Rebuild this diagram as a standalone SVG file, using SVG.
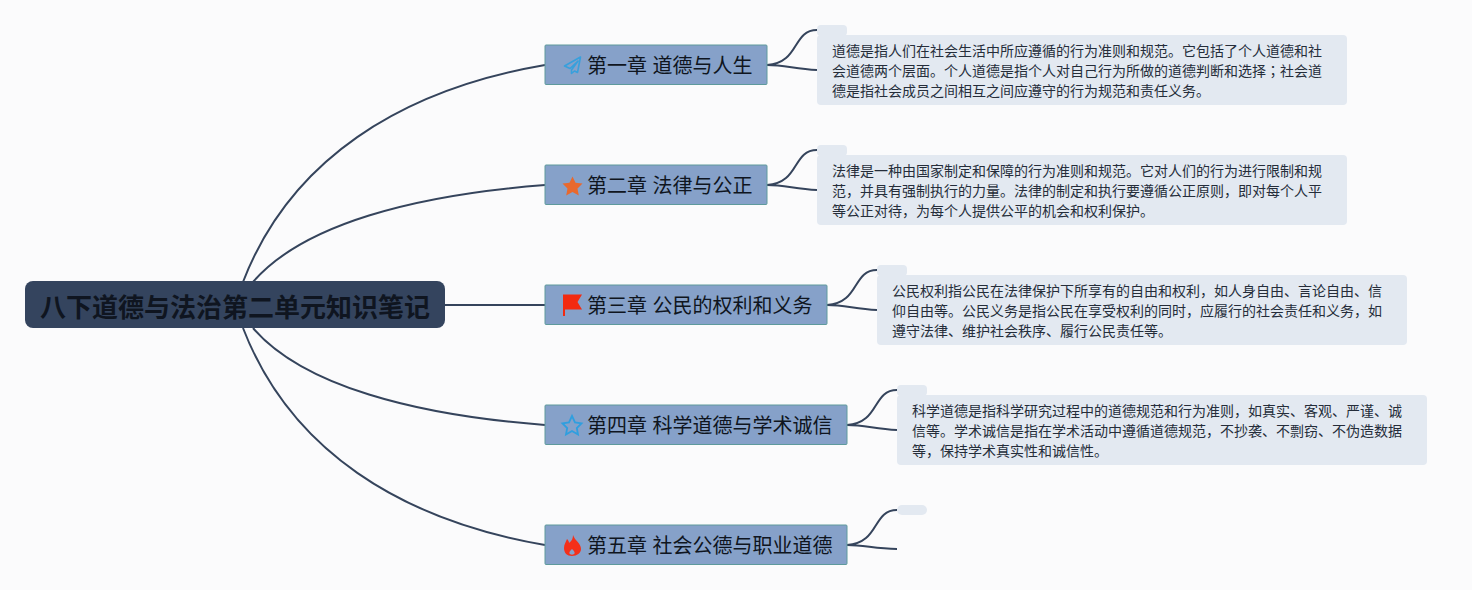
<svg xmlns="http://www.w3.org/2000/svg" width="1472" height="590" viewBox="0 0 1472 590">
<style>
text{font-family:"Noto Sans CJK SC","Noto Sans",sans-serif}
.c{fill:none;stroke:#35445c;stroke-width:2}
.t{fill:#86a1c9;stroke:#5e9a9c;stroke-width:1}
.l{font-size:20px;fill:#0f1520;word-spacing:1px}
.n{fill:#e3e9f1}
.p{font-size:14px;fill:#252d3a}
.s{font-family:"Noto Sans CJK JP",sans-serif}
</style>
<rect width="1472" height="590" fill="#fbfbfc"/>
<g id="connectors">
<path class="c" d="M243 282C290 160 400 90 545 65"/>
<path class="c" d="M253 282C303 224 415 195 545 185"/>
<path class="c" d="M445 305H545"/>
<path class="c" d="M253 328C303 386 415 415 545 425"/>
<path class="c" d="M243 328C290 450 400 520 545 545"/>
<path class="c" d="M767 65C800 63 792 30 817 30M767 65C785 65 795 69 817 70"/>
<path class="c" d="M767 185C800 183 792 150 817 150M767 185C785 185 795 189 817 190"/>
<path class="c" d="M827 305C860 303 852 270 877 270M827 305C845 305 855 309 877 310"/>
<path class="c" d="M847 425C880 423 872 390 897 390M847 425C865 425 875 429 897 430"/>
<path class="c" d="M847 545C880 543 872 510 897 510M847 545C865 545 875 549 897 549"/>
</g>
<g id="root"><rect x="25" y="281" width="420" height="47" rx="8" fill="#34445e"/><text x="235" y="317" text-anchor="middle" font-size="26" font-weight="700" fill="#0f1520">八下道德与法治第二单元知识笔记</text></g>
<g id="t1"><rect class="t" x="545" y="45" width="222" height="39.500" rx="1"/>
<path d="M580.500 57L564.500 66L570 68.500L578 61L571.500 70V73.500L574.500 71L577.500 72.500Z" fill="none" stroke="#38a0dc" stroke-width="1.600" stroke-linejoin="round"/>
<text class="l" x="587" y="73">第一章 道德与人生</text></g>
<g id="t2"><rect class="t" x="545" y="165" width="222" height="39.500" rx="1"/>
<path d="M572.500 176.500L575.500 182.800L582.500 183.600L577.500 188.400L578.800 195.500L572.500 192L566.200 195.500L567.500 188.400L562.500 183.600L569.500 182.800Z" fill="#e8692e"/>
<text class="l" x="587" y="193">第二章 法律与公正</text></g>
<g id="t3"><rect class="t" x="545" y="285" width="282" height="39.500" rx="1"/>
<path d="M563 294.500H582L577.500 302L582 309.500H565V316H563Z" fill="#f22a10"/>
<text class="l" x="587" y="313">第三章 公民的权利和义务</text></g>
<g id="t4"><rect class="t" x="545" y="405" width="302" height="39.500" rx="1"/>
<path d="M572 416L575 422.500L581.500 423.300L576.800 428L578 434.500L572 431L566 434.500L567.200 428L562.500 423.300L569 422.500Z" fill="none" stroke="#2f9fdf" stroke-width="1.800"/>
<text class="l" x="587" y="433">第四章 科学道德与学术诚信</text></g>
<g id="t5"><rect class="t" x="545" y="525" width="302" height="39.500" rx="1"/>
<path d="M573 535C575 541 581 543 581 549C581 553 577 556 572 556C567 556 564 553 564 548C564 544 566 542 567 539C568 540 569 541 569 543C572 541 573 538 573 535ZM572 549C570 551 569 552 569.500 553.500C570 555 574 555 574.500 553.500C575 552 574 551 572 549Z" fill="#f4301a" fill-rule="evenodd"/>
<text class="l" x="587" y="553">第五章 社会公德与职业道德</text></g>
<g id="n1"><rect class="n" x="817" y="25" width="30" height="11" rx="4"/><rect class="n" x="817" y="35" width="530" height="70" rx="4"/>
<text class="p" x="832" y="56">道德是指人们在社会生活中所应遵循的行为准则和规范。它包括了个人道德和社</text><text class="p" x="832" y="76">会道德两个层面。个人道德是指个人对自己行为所做的道德判断和选择<tspan class="s">；</tspan>社会道</text><text class="p" x="832" y="96">德是指社会成员之间相互之间应遵守的行为规范和责任义务。</text></g>
<g id="n2"><rect class="n" x="817" y="145" width="30" height="11" rx="4"/><rect class="n" x="817" y="155" width="530" height="70" rx="4"/>
<text class="p" x="832" y="176">法律是一种由国家制定和保障的行为准则和规范。它对人们的行为进行限制和规</text><text class="p" x="832" y="196">范，并具有强制执行的力量。法律的制定和执行要遵循公正原则，即对每个人平</text><text class="p" x="832" y="216">等公正对待，为每个人提供公平的机会和权利保护。</text></g>
<g id="n3"><rect class="n" x="877" y="265" width="30" height="11" rx="4"/><rect class="n" x="877" y="275" width="530" height="70" rx="4"/>
<text class="p" x="892" y="296">公民权利指公民在法律保护下所享有的自由和权利，如人身自由、言论自由、信</text><text class="p" x="892" y="316">仰自由等。公民义务是指公民在享受权利的同时，应履行的社会责任和义务，如</text><text class="p" x="892" y="336">遵守法律、维护社会秩序、履行公民责任等。</text></g>
<g id="n4"><rect class="n" x="897" y="385" width="30" height="11" rx="4"/><rect class="n" x="897" y="395" width="530" height="70" rx="4"/>
<text class="p" x="912" y="416">科学道德是指科学研究过程中的道德规范和行为准则，如真实、客观、严谨、诚</text><text class="p" x="912" y="436">信等。学术诚信是指在学术活动中遵循道德规范，不抄袭、不剽窃、不伪造数据</text><text class="p" x="912" y="456">等，保持学术真实性和诚信性。</text></g>
<g id="n5"><rect class="n" x="897" y="505" width="30" height="10" rx="5"/></g>
</svg>
